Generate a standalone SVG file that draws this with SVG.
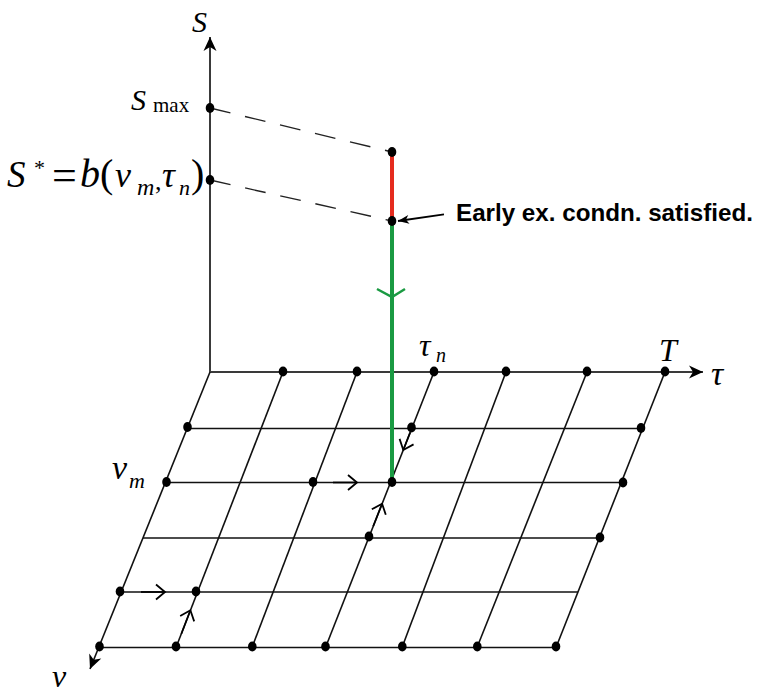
<svg xmlns="http://www.w3.org/2000/svg" width="759" height="694" viewBox="0 0 759 694">
<style>
.ax{stroke:#3a3a3a;stroke-width:2;fill:none}
.gl{stroke:#111;stroke-width:1.6;fill:none}
.dash{stroke:#222;stroke-width:1.4;stroke-dasharray:21 15;fill:none}
.ch{stroke:#000;stroke-width:1.7;fill:none}
.mi{font-family:"Liberation Serif","Times New Roman",serif;font-style:italic;fill:#000}
.up{font-style:normal}
.note{font-family:"Liberation Sans",Arial,sans-serif;font-weight:bold;font-size:24px;fill:#000}
.dot{fill:#000}
</style>
<defs>
<marker id="axhead" markerUnits="userSpaceOnUse" markerWidth="16" markerHeight="14" refX="14" refY="6.5" orient="auto" overflow="visible">
<path d="M0,0 L14,6.5 L0,13 L4,6.5 z" fill="#000"/>
</marker>
<marker id="leadhead" markerUnits="userSpaceOnUse" markerWidth="12" markerHeight="10" refX="11" refY="4.5" orient="auto" overflow="visible">
<path d="M0,0 L11,4.5 L0,9 L3,4.5 z" fill="#000"/>
</marker>
<marker id="chev" markerUnits="userSpaceOnUse" markerWidth="16" markerHeight="16" refX="11" refY="7" orient="auto" overflow="visible">
<path d="M2,-0.5 L11,7 L2,14.5" stroke="#000" stroke-width="1.8" fill="none"/>
</marker>
</defs>

<g id="axes">
<line class="ax" x1="210" y1="372" x2="210" y2="37" marker-end="url(#axhead)"/>
<line class="ax" x1="210" y1="372" x2="703" y2="372" marker-end="url(#axhead)"/>
<line class="gl" x1="210" y1="372" x2="90" y2="669" marker-end="url(#axhead)"/>
</g>

<g id="grid">
<line class="gl" x1="283" y1="372" x2="176" y2="647.5"/>
<line class="gl" x1="357" y1="372" x2="252" y2="647.5"/>
<line class="gl" x1="434" y1="372" x2="325.5" y2="647.5"/>
<line class="gl" x1="506" y1="372" x2="402" y2="647.5"/>
<line class="gl" x1="587" y1="372" x2="477" y2="647.5"/>
<line class="gl" x1="665" y1="372" x2="556" y2="647.5"/>
<line class="gl" x1="187.2" y1="428.5" x2="642.6" y2="428.5"/>
<line class="gl" x1="165.5" y1="482.5" x2="621.3" y2="482.5"/>
<line class="gl" x1="143.1" y1="538" x2="599.3" y2="538"/>
<line class="gl" x1="121.3" y1="592" x2="577.9" y2="592"/>
<line class="gl" x1="99" y1="647.5" x2="556" y2="647.5"/>
</g>

<g id="projection">
<line class="dash" x1="210" y1="108" x2="392" y2="152"/>
<line class="dash" x1="210" y1="180" x2="392" y2="221"/>
<line x1="392" y1="152" x2="392" y2="221" stroke="#e52b1e" stroke-width="4"/>
<line x1="392" y1="221" x2="392" y2="482.5" stroke="#1a9a42" stroke-width="4"/>
<polyline points="377,289 392,297 405,289" stroke="#1a9a42" stroke-width="2.5" fill="none"/>
</g>

<g id="connectors">
<line class="ch" x1="333" y1="482.5" x2="357" y2="482.5" marker-end="url(#chev)"/>
<line class="ch" x1="141" y1="592" x2="165" y2="592" marker-end="url(#chev)"/>
<line class="ch" x1="181.4" y1="633.7" x2="190.4" y2="610.3" marker-end="url(#chev)"/>
<line class="ch" x1="373.2" y1="526.3" x2="382.1" y2="503.7" marker-end="url(#chev)"/>
<line class="ch" x1="410.1" y1="432.6" x2="403.3" y2="450" marker-end="url(#chev)"/>
<line x1="444" y1="214.3" x2="398" y2="221" stroke="#000" stroke-width="1.8" marker-end="url(#leadhead)"/>
</g>

<g id="dots">
<ellipse class="dot" cx="210" cy="108" rx="4.3" ry="5"/>
<ellipse class="dot" cx="210" cy="180" rx="4.3" ry="5"/>
<ellipse class="dot" cx="392" cy="152" rx="4.3" ry="5"/>
<ellipse class="dot" cx="392" cy="221" rx="4.3" ry="5"/>
<ellipse class="dot" cx="283" cy="371.5" rx="4.3" ry="5"/>
<ellipse class="dot" cx="357" cy="371.5" rx="4.3" ry="5"/>
<ellipse class="dot" cx="434" cy="371.5" rx="4.3" ry="5"/>
<ellipse class="dot" cx="506" cy="371.5" rx="4.3" ry="5"/>
<ellipse class="dot" cx="587" cy="371.5" rx="4.3" ry="5"/>
<ellipse class="dot" cx="665" cy="371.5" rx="4.3" ry="5"/>
<ellipse class="dot" cx="187.5" cy="427" rx="4.3" ry="5"/>
<ellipse class="dot" cx="411.5" cy="427.5" rx="4.3" ry="5"/>
<ellipse class="dot" cx="641" cy="428" rx="4.3" ry="5"/>
<ellipse class="dot" cx="166.5" cy="482" rx="4.3" ry="5"/>
<ellipse class="dot" cx="313" cy="482" rx="4.3" ry="5"/>
<ellipse class="dot" cx="392" cy="482" rx="4.3" ry="5"/>
<ellipse class="dot" cx="623" cy="482.5" rx="4.3" ry="5"/>
<ellipse class="dot" cx="369" cy="536.5" rx="4.3" ry="5"/>
<ellipse class="dot" cx="600" cy="537.5" rx="4.3" ry="5"/>
<ellipse class="dot" cx="120" cy="591.5" rx="4.3" ry="5"/>
<ellipse class="dot" cx="196" cy="591.5" rx="4.3" ry="5"/>
<ellipse class="dot" cx="99.5" cy="646.5" rx="4.3" ry="5"/>
<ellipse class="dot" cx="176" cy="646.5" rx="4.3" ry="5"/>
<ellipse class="dot" cx="252.3" cy="646.5" rx="4.3" ry="5"/>
<ellipse class="dot" cx="325.5" cy="646.5" rx="4.3" ry="5"/>
<ellipse class="dot" cx="402.3" cy="646.5" rx="4.3" ry="5"/>
<ellipse class="dot" cx="477.3" cy="646.5" rx="4.3" ry="5"/>
<ellipse class="dot" cx="556" cy="646.5" rx="4.3" ry="5"/>
</g>

<g id="labels">
<text class="mi" x="192" y="32" font-size="30">S</text>
<text class="mi" font-size="30"><tspan x="131" y="110">S</tspan><tspan class="up" x="153" y="112" font-size="21">max</tspan></text>
<text class="mi" font-size="40"><tspan x="7" y="187" font-size="37">S</tspan><tspan class="up" x="34" y="175" font-size="22">*</tspan><tspan class="up" x="52" y="190" font-size="44">=</tspan><tspan x="80" y="187">b</tspan><tspan class="up" x="100" y="187">(</tspan><tspan x="115" y="187" font-size="36">v</tspan><tspan x="137" y="195" font-size="24">m</tspan><tspan class="up" x="155" y="190" font-size="26">,</tspan><tspan x="162" y="187" font-size="36">τ</tspan><tspan x="179" y="195" font-size="22">n</tspan><tspan class="up" x="191" y="187">)</tspan></text>
<text class="note" x="456" y="221" textLength="297" lengthAdjust="spacingAndGlyphs">Early ex. condn. satisfied.</text>
<text class="mi" font-size="32"><tspan x="419" y="356">τ</tspan><tspan x="436" y="362" font-size="20">n</tspan></text>
<text class="mi" x="659" y="361" font-size="32">T</text>
<text class="mi" x="711" y="385" font-size="34">τ</text>
<text class="mi" font-size="34"><tspan x="112" y="479">v</tspan><tspan x="129" y="488" font-size="22">m</tspan></text>
<text class="mi" x="52" y="687" font-size="32">v</text>
</g>
</svg>
